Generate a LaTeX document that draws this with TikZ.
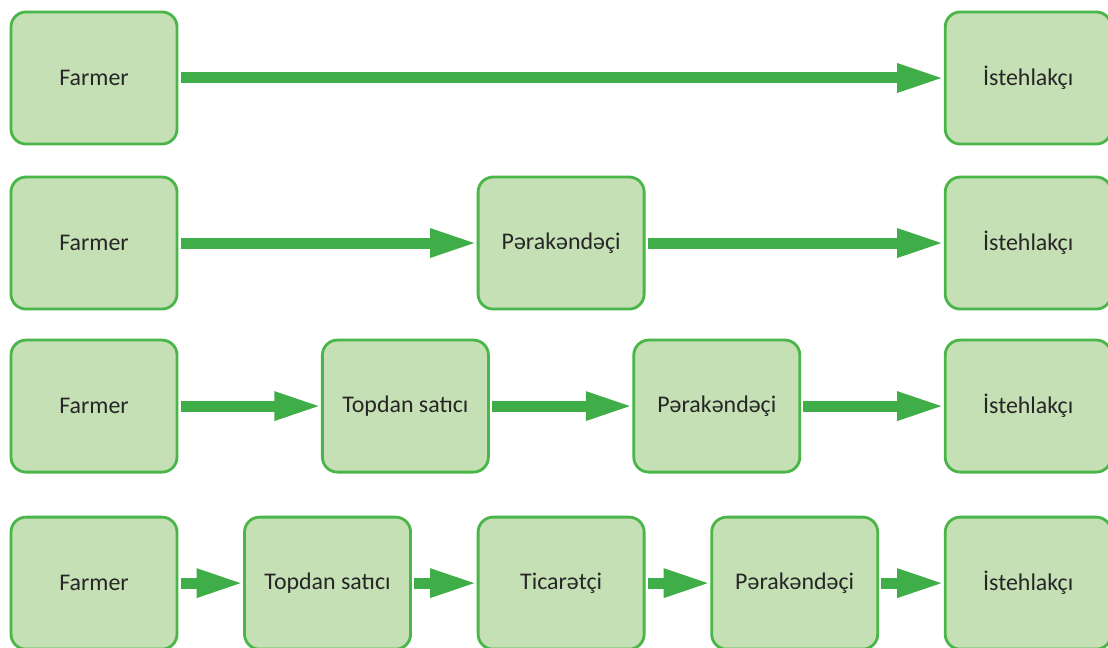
\documentclass[tikz,border=0pt]{standalone}
\usepackage{fontspec}
\setmainfont{Carlito}
\usetikzlibrary{arrows.meta, positioning}

\definecolor{boxfill}{HTML}{C5E0B4}
\definecolor{boxline}{HTML}{4AB548}
\definecolor{flowgreen}{HTML}{3FAE49}
\definecolor{textgray}{HTML}{262626}

\begin{document}
\begin{tikzpicture} [x = 0.025cm, y = -0.025cm, on grid,
    box/.style = {draw = boxline, fill = boxfill, line width = 2pt, rounded corners = 0.375cm,
        minimum width = 4.15cm, minimum height = 3.3cm, inner sep = 0pt, outer sep = 0pt,
        text = textgray, font = \fontsize{17}{20}\selectfont},
    flow/.style = {-{Triangle[length = 1.2cm, width = 0.65cm]}, draw = flowgreen,
        line width = 0.275cm, shorten <= 2.5pt}]
    \useasboundingbox (0,0) rectangle (1108,648);

    % row 1
    \node (f1) [box] at (94,78) {Farmer};
    \node (c1) [box, right = 23.35cm of f1] {İstehlakçı};

    % row 2
    \node (f2) [box, below = 4.125cm of f1] {Farmer};
    \node (p2) [box, right = 11.675cm of f2] {Pərakəndəçi};
    \node (c2) [box, right = 11.675cm of p2] {İstehlakçı};

    % row 3
    \node (f3) [box, below = 4.075cm of f2] {Farmer};
    \node (w3) [box, right = 7.783cm of f3] {Topdan satıcı};
    \node (p3) [box, right = 7.783cm of w3] {Pərakəndəçi};
    \node (c3) [box, right = 7.783cm of p3] {İstehlakçı};

    % row 4
    \node (f4) [box, below = 4.425cm of f3] {Farmer};
    \node (w4) [box, right = 5.8375cm of f4] {Topdan satıcı};
    \node (t4) [box, right = 5.8375cm of w4] {Ticarətçi};
    \node (p4) [box, right = 5.8375cm of t4] {Pərakəndəçi};
    \node (c4) [box, right = 5.8375cm of p4] {İstehlakçı};

    \path [flow] (f1) edge (c1);

    \path [flow] (f2) edge (p2);
    \path [flow] (p2) edge (c2);

    \path [flow] (f3) edge (w3);
    \path [flow] (w3) edge (p3);
    \path [flow] (p3) edge (c3);

    \path [flow] (f4) edge (w4);
    \path [flow] (w4) edge (t4);
    \path [flow] (t4) edge (p4);
    \path [flow] (p4) edge (c4);
\end{tikzpicture}
\end{document}
